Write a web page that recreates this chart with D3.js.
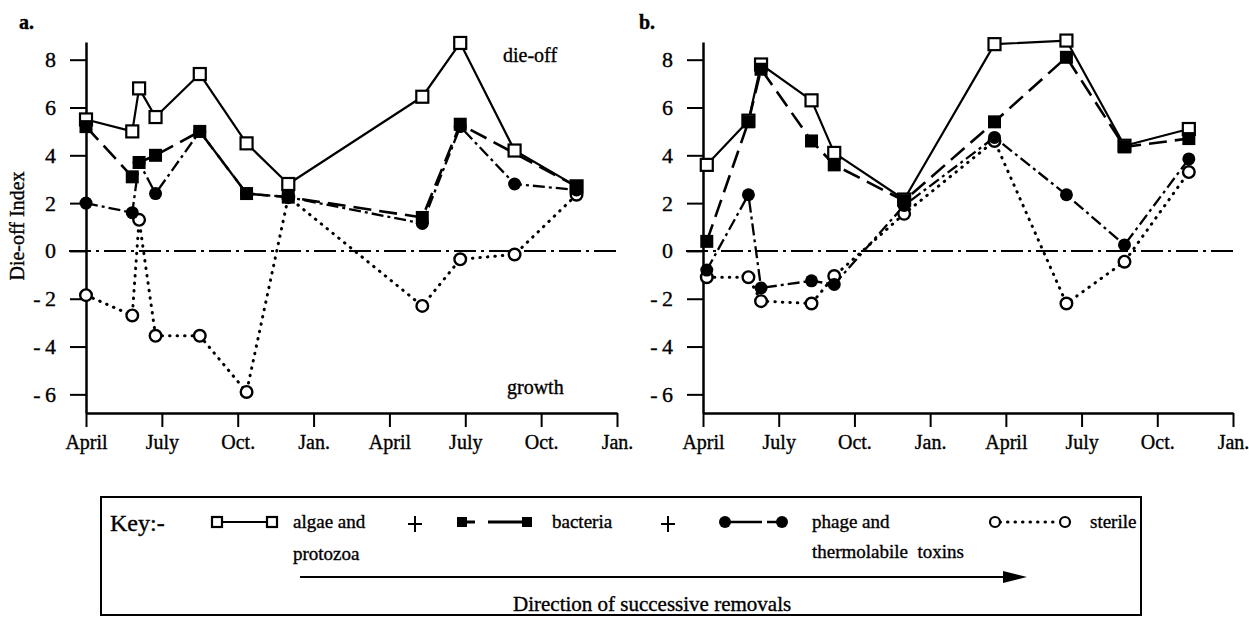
<!DOCTYPE html>
<html>
<head>
<meta charset="utf-8">
<script src="https://cdn.jsdelivr.net/npm/d3@7"></script>
<style>
  body { margin: 0; background: #fff; }
  svg { display: block; font-family: "Liberation Serif", "Times New Roman", serif; }
  svg text { stroke: #000; stroke-width: 0.35px; fill: #000; }
</style>
</head>
<body>
<svg id="chart" width="1249" height="617"></svg>
<script>
// Sampling times are months counted from the first April of each survey.
const monthTicks = [0, 3, 6, 9, 12, 15, 18, 21];
const monthLabels = ["April", "July", "Oct.", "Jan.", "April", "July", "Oct.", "Jan."];
const indexTicks = [-6, -4, -2, 0, 2, 4, 6, 8];

// Panel a
const datesA    = [0, 1.83, 2.1, 2.75, 4.5, 6.35, 8.0, 13.3, 14.8, 16.95, 19.4];
const algaeA    = [5.5, 5.0, 6.8, 5.6, 7.4, 4.5, 2.8, 6.45, 8.7, 4.2, 2.7];
const bacteriaA = [5.2, 3.1, 3.7, 4.0, 5.0, 2.4, 2.25, 1.4, 5.3, null, 2.7];
const phageA    = [2.0, 1.6, 3.7, 2.4, 5.0, 2.4, 2.25, 1.15, 5.2, 2.8, 2.55];
const sterileA  = [-1.85, -2.7, 1.3, -3.55, -3.55, -5.9, 2.25, -2.3, -0.35, -0.15, 2.35];

// Panel b
const datesB    = [0.15, 1.8, 2.3, 4.3, 5.2, 7.97, 11.55, 14.4, 16.7, 19.25];
const algaeB    = [3.6, 5.45, 7.8, 6.3, 4.1, 2.15, 8.65, 8.8, 4.4, 5.1];
const bacteriaB = [0.4, 5.4, 7.6, 4.6, 3.6, 2.1, 5.4, 8.1, 4.35, 4.7];
const phageB    = [-0.8, 2.35, -1.55, -1.25, -1.4, 1.9, 4.75, 2.35, 0.25, 3.85];
const sterileB  = [-1.1, -1.1, -2.1, -2.2, -1.05, 1.55, 4.6, -2.2, -0.45, 3.3];

// Line and marker styling per treatment
const styles = {
  algae:    { dash: null,          width: 2.2, marker: "square", filled: false },
  bacteria: { dash: "18,8",        width: 2.6, marker: "square", filled: true },
  phage:    { dash: "12,4,3,4",    width: 2.3, marker: "circle", filled: true },
  sterile:  { dash: "0.5,7",       width: 3,   marker: "circle", filled: false }
};

const svg = d3.select("#chart");
const y = d3.scaleLinear().domain([-6.78, 8.74]).range([413, 42]);

const panels = [
  { tag: "a.", tagX: 19, x0: 86,  x1: 617, dates: datesA,
    series: { algae: algaeA, bacteria: bacteriaA, phage: phageA, sterile: sterileA } },
  { tag: "b.", tagX: 639, x0: 703, x1: 1233, dates: datesB,
    series: { algae: algaeB, bacteria: bacteriaB, phage: phageB, sterile: sterileB } }
];

const fmtIndex = d => d < 0 ? "-\u2009" + Math.abs(d) : String(d);

panels.forEach((p, pi) => {
  const x = d3.scaleLinear().domain([0, 21]).range([p.x0, p.x1]);
  const g = svg.append("g");

  // zero reference line
  g.append("line")
    .attr("x1", p.x0 - 17).attr("x2", p.x1 + 3)
    .attr("y1", y(0)).attr("y2", y(0))
    .attr("stroke", "#000").attr("stroke-width", 2)
    .attr("stroke-dasharray", "22,5,3,5");

  // axes
  const ay = g.append("g").attr("transform", `translate(${p.x0},0)`)
    .call(d3.axisLeft(y).tickValues(indexTicks).tickSize(16).tickPadding(14)
      .tickSizeOuter(0).tickFormat(fmtIndex));
  const ax = g.append("g").attr("transform", `translate(0,${y.range()[0]})`)
    .call(d3.axisBottom(x).tickValues(monthTicks).tickSize(14).tickPadding(8)
      .tickSizeOuter(0).tickFormat((d, i) => monthLabels[i]));
  [ay, ax].forEach(a => {
    a.select(".domain").attr("stroke", "#000").attr("stroke-width", 2.5);
    a.selectAll(".tick line").attr("stroke", "#000").attr("stroke-width", 2);
    a.selectAll("text").attr("fill", "#000").attr("font-family", "Liberation Serif");
  });
  ay.selectAll("text").attr("font-size", 22);
  ax.selectAll("text").attr("font-size", 20);

  // panel tag
  svg.append("text").attr("x", p.tagX).attr("y", 29)
    .attr("font-size", 20).attr("font-weight", "bold").text(p.tag);

  // series lines
  const line = d3.line().x(d => x(d.m)).y(d => y(d.v));
  const order = ["sterile", "phage", "bacteria", "algae"];
  const pts = {};
  order.forEach(k => {
    pts[k] = p.dates.map((m, i) => ({ m, v: p.series[k][i] })).filter(d => d.v != null);
    const s = styles[k];
    g.append("path").datum(pts[k])
      .attr("d", line).attr("fill", "none").attr("stroke", "#000")
      .attr("stroke-width", s.width)
      .attr("stroke-dasharray", s.dash)
      .attr("stroke-linecap", k === "sterile" ? "round" : "butt")
      .attr("stroke-linejoin", "round");
  });

  // markers: open symbols first, filled ones on top
  ["algae", "sterile", "bacteria", "phage"].forEach(k => {
    const s = styles[k];
    const mg = g.append("g");
    if (s.marker === "square") {
      const size = s.filled ? 13 : 12;
      mg.selectAll("rect").data(pts[k]).join("rect")
        .attr("x", d => x(d.m) - size / 2).attr("y", d => y(d.v) - size / 2)
        .attr("width", size).attr("height", size)
        .attr("fill", s.filled ? "#000" : "#fff")
        .attr("stroke", "#000").attr("stroke-width", s.filled ? 0 : 2.2);
    } else {
      mg.selectAll("circle").data(pts[k]).join("circle")
        .attr("cx", d => x(d.m)).attr("cy", d => y(d.v))
        .attr("r", s.filled ? 6.5 : 5.8)
        .attr("fill", s.filled ? "#000" : "#fff")
        .attr("stroke", "#000").attr("stroke-width", s.filled ? 0 : 2.4);
    }
  });

  if (pi === 0) {
    svg.append("text").attr("x", 503).attr("y", 62).attr("font-size", 20).text("die-off");
    svg.append("text").attr("x", 507).attr("y", 394).attr("font-size", 20).text("growth");
    svg.append("text")
      .attr("transform", "translate(24,226) rotate(-90)")
      .attr("text-anchor", "middle").attr("font-size", 20).text("Die-off Index");
  }
});

// Key box
const key = svg.append("g");
key.append("rect").attr("x", 101).attr("y", 497).attr("width", 1040).attr("height", 118)
  .attr("fill", "none").attr("stroke", "#000").attr("stroke-width", 2);
key.append("text").attr("x", 110).attr("y", 531).attr("font-size", 24).text("Key:-");

const ky = 522;
const plus = cx => {
  key.append("line").attr("x1", cx - 7).attr("x2", cx + 7).attr("y1", ky + 2).attr("y2", ky + 2)
    .attr("stroke", "#000").attr("stroke-width", 2);
  key.append("line").attr("x1", cx).attr("x2", cx).attr("y1", ky - 6).attr("y2", ky + 10)
    .attr("stroke", "#000").attr("stroke-width", 2);
};
const seg = (x1, x2, w, dash) => key.append("line")
  .attr("x1", x1).attr("x2", x2).attr("y1", ky).attr("y2", ky)
  .attr("stroke", "#000").attr("stroke-width", w)
  .attr("stroke-dasharray", dash || null)
  .attr("stroke-linecap", dash ? "round" : "butt");
const sq = (cx, filled) => key.append("rect").attr("x", cx - 5).attr("y", ky - 5)
  .attr("width", 10).attr("height", 10)
  .attr("fill", filled ? "#000" : "#fff").attr("stroke", "#000").attr("stroke-width", filled ? 0 : 2.2);
const dot = (cx, filled) => key.append("circle").attr("cx", cx).attr("cy", ky).attr("r", filled ? 6 : 5)
  .attr("fill", filled ? "#000" : "#fff").attr("stroke", "#000").attr("stroke-width", filled ? 0 : 2.2);
const label = (x, yy, t) => key.append("text").attr("x", x).attr("y", yy)
  .attr("font-size", 19).style("white-space", "pre").text(t);

// algae and protozoa
seg(217, 272, 2); sq(217, false); sq(272, false);
label(293, 528, "algae and"); label(293, 560, "protozoa");
plus(415);
// bacteria
seg(462, 475, 3); seg(488, 527, 3); sq(462, true); sq(527, true);
label(552, 528, "bacteria");
plus(668);
// phage and thermolabile toxins
seg(725, 762, 2.5); seg(767, 782, 2.5); dot(725, true); dot(782, true);
label(812, 528, "phage and"); label(812, 558, "thermolabile  toxins");
// sterile
seg(1000, 1060, 3, "0.5,7"); dot(995, false); dot(1065, false);
label(1090, 528, "sterile");

// direction arrow
key.append("line").attr("x1", 300).attr("x2", 1008).attr("y1", 577).attr("y2", 577)
  .attr("stroke", "#000").attr("stroke-width", 2);
key.append("path").attr("d", "M1003,571 L1027,577 L1003,583 Z").attr("fill", "#000");
key.append("text").attr("x", 513).attr("y", 611).attr("font-size", 21)
  .text("Direction of successive removals");
</script>
</body>
</html>
